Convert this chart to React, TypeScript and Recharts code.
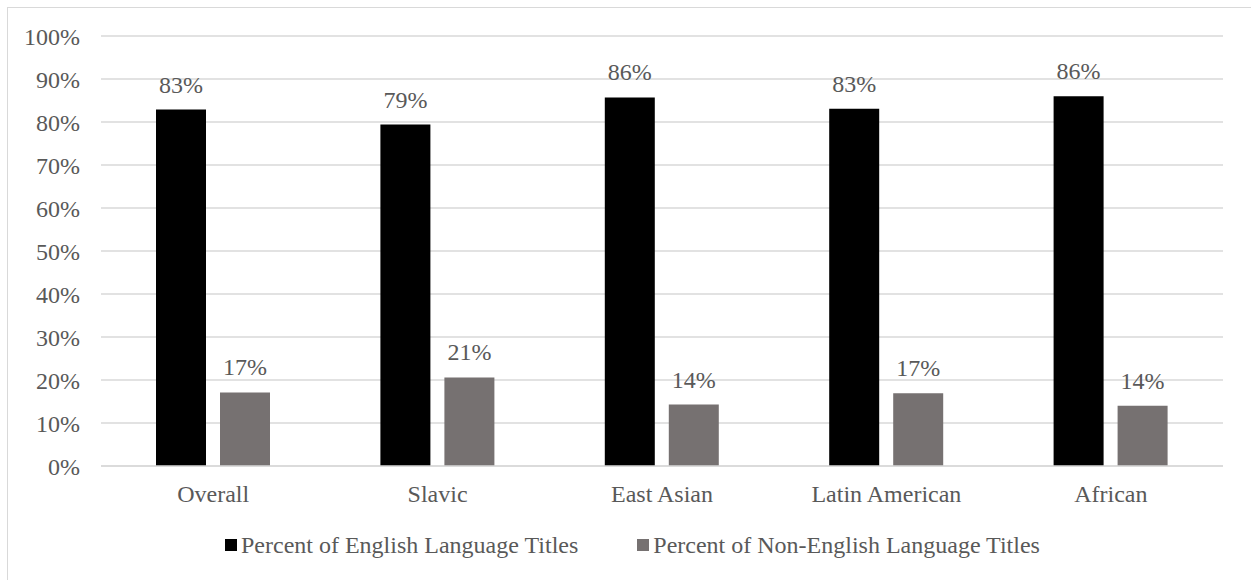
import React from "react";
import { BarChart, Bar, XAxis, YAxis, CartesianGrid, LabelList, Legend } from "recharts";

const categories = ["Overall", "Slavic", "East Asian", "Latin American", "African"];
const englishValues = [82.9, 79.4, 85.7, 83.1, 86.0];
const nonEnglishValues = [17.1, 20.6, 14.3, 16.9, 14.0];
const yTicks = [0, 10, 20, 30, 40, 50, 60, 70, 80, 90, 100];
const seriesNames = ["Percent of English Language Titles", "Percent of Non-English Language Titles"];
const seriesColors = ["#000000", "#767171"];

const data = categories.map((c, i) => ({ name: c, english: englishValues[i], nonEnglish: nonEnglishValues[i] }));

const FONT = "'Liberation Serif', 'Times New Roman', serif";
const TEXT = "#595959";
const FS = 24;

const LegendContent = () => (
  <div style={{ display: "flex", alignItems: "center", fontFamily: FONT, fontSize: FS, lineHeight: 1, color: TEXT, whiteSpace: "nowrap" }}>
    {seriesNames.map((n, i) => (
      <div key={n} style={{ display: "flex", alignItems: "center", marginRight: i === 0 ? 59 : 0 }}>
        <div style={{ width: 12, height: 12, background: seriesColors[i], marginRight: 4 }} />
        <span>{n}</span>
      </div>
    ))}
  </div>
);

export default function App() {
  return (
    <div style={{ position: "absolute", left: 0, top: 0, width: 1251, height: 580, background: "#fff", overflow: "hidden" }}>
      <div style={{ position: "absolute", left: 7, top: 7, width: 1300, height: 700, border: "1px solid #d9d9d9" }} />
      <div style={{ position: "absolute", left: 0, top: 0 }}>
        <BarChart
          width={1251}
          height={580}
          data={data}
          margin={{ top: 36, right: 28, bottom: 84, left: 11 }}
          barSize={50}
          barGap={14}
        >
          <CartesianGrid vertical={false} stroke="#d9d9d9" strokeWidth={1.5} />
          <XAxis
            dataKey="name"
            axisLine={{ stroke: "#d9d9d9", strokeWidth: 1.5 }}
            tickLine={false}
            tickSize={0}
            tickMargin={19}
            tick={{ fill: TEXT, fontSize: FS, fontFamily: FONT }}
            interval={0}
          />
          <YAxis
            width={90}
            domain={[0, 100]}
            ticks={yTicks}
            tickFormatter={(v: number) => `${v}%`}
            axisLine={false}
            tickLine={false}
            tickSize={0}
            tickMargin={21}
            tick={{ fill: TEXT, fontSize: FS, fontFamily: FONT }}
          />
          <Legend
            content={<LegendContent />}
            wrapperStyle={{ position: "absolute", left: 225, top: 533, width: "auto", height: 0, overflow: "visible" }}
          />
          <Bar dataKey="english" name={seriesNames[0]} fill={seriesColors[0]} isAnimationActive={false}>
            <LabelList
              dataKey="english"
              position="top"
              offset={17}
              formatter={(v: number) => `${Math.round(v)}%`}
              style={{ fill: TEXT, fontSize: FS, fontFamily: FONT }}
            />
          </Bar>
          <Bar dataKey="nonEnglish" name={seriesNames[1]} fill={seriesColors[1]} isAnimationActive={false}>
            <LabelList
              dataKey="nonEnglish"
              position="top"
              offset={17}
              formatter={(v: number) => `${Math.round(v)}%`}
              style={{ fill: TEXT, fontSize: FS, fontFamily: FONT }}
            />
          </Bar>
        </BarChart>
      </div>
    </div>
  );
}
